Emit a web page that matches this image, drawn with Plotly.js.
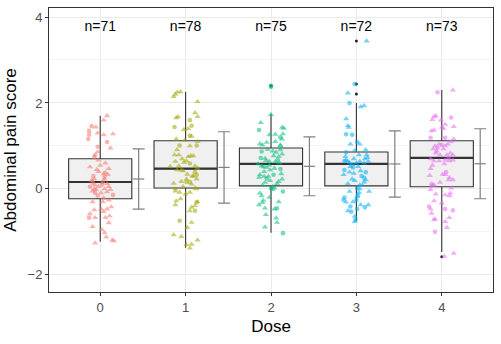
<!DOCTYPE html>
<html>
<head>
<meta charset="utf-8">
<script src="https://cdn.plot.ly/plotly-3.0.1.min.js"></script>
<style>
  body { margin: 0; background: #fff; }
  #chart { width: 501px; height: 344px; }
</style>
</head>
<body>
<div id="chart"></div>
<script>
// categories and labels
const doses = [0, 1, 2, 3, 4];
const nLabels = ["n=71", "n=78", "n=75", "n=72", "n=73"];
const labelY = 3.76;

// boxplot stats
const q1 = [-0.23, 0.02, 0.07, 0.07, 0.05];
const medians = [0.16, 0.47, 0.58, 0.58, 0.72];
const q3 = [0.70, 1.12, 0.95, 0.86, 1.12];
const lowFence = [-1.23, -1.37, -1.02, -0.74, -1.47];
const upFence = [1.70, 2.26, 1.74, 2.00, 2.30];
const outX = [2, 3, 3, 3, 4];
const outY = [2.40, 2.21, 2.44, 3.44, -1.58];

// mean +- sd
const means = [0.23, 0.50, 0.525, 0.58, 0.585];
const sds = [0.70, 0.83, 0.685, 0.77, 0.815];

// jittered points: [x offset, score, shape]  t = triangle, c = circle
const pts0 = [
  [0.08,1.70,"t"],[0.04,1.60,"t"],[-0.10,1.46,"c"],[-0.05,1.44,"t"],[-0.13,1.35,"c"],[-0.03,1.30,"t"],
  [0.04,1.26,"t"],[0.15,1.28,"t"],[-0.13,1.26,"c"],[-0.14,1.16,"c"],[0.08,1.09,"c"],[-0.03,0.98,"c"],
  [0.12,0.95,"t"],[-0.06,0.79,"c"],[-0.03,0.86,"t"],[-0.07,0.74,"c"],[-0.02,0.67,"t"],[0.06,0.60,"t"],
  [-0.12,0.51,"t"],[-0.02,0.40,"t"],[0.04,0.35,"t"],[0.10,0.47,"t"],[0.05,0.28,"c"],[-0.07,0.23,"t"],
  [0.05,0.23,"t"],[0.09,0.33,"t"],[-0.09,0.14,"c"],[-0.06,0.09,"t"],[0.03,0.16,"c"],[0.08,0.12,"t"],
  [-0.12,0.05,"c"],[-0.07,0.00,"t"],[-0.02,0.05,"t"],[0.05,0.00,"t"],[0.15,-0.14,"c"],[-0.09,-0.05,"t"],
  [-0.06,-0.09,"c"],[0.01,-0.09,"t"],[0.08,-0.07,"t"],[-0.03,-0.16,"c"],[0.04,-0.21,"t"],[-0.09,-0.30,"t"],
  [0.03,-0.30,"t"],[0.10,-0.26,"t"],[-0.07,-0.49,"t"],[0.01,-0.47,"t"],[0.08,-0.47,"t"],[0.13,-0.42,"t"],
  [0.04,-0.53,"t"],[-0.12,-0.58,"t"],[0.11,-0.63,"t"],[-0.13,-0.67,"c"],[-0.06,-0.67,"t"],[0.06,-0.67,"t"],
  [0.10,-0.79,"t"],[-0.09,-0.88,"t"],[0.02,-0.95,"t"],[0.05,-1.02,"t"],[0.07,-1.12,"t"],[-0.06,-1.26,"t"],
  [0.14,-1.19,"t"],[0.16,-1.21,"t"],[-0.04,0.45,"t"],[0.06,0.38,"t"],[-0.10,0.20,"t"],[0.02,0.10,"c"],
  [-0.05,-0.02,"t"],[0.10,0.05,"t"],[-0.08,0.30,"c"],[0.12,-0.02,"t"],[0.00,0.55,"t"]
];
const pts1 = [
  [-0.12,2.20,"t"],[-0.10,2.25,"t"],[-0.06,2.26,"t"],[-0.14,2.15,"t"],[0.14,2.03,"t"],[0.11,1.77,"t"],
  [0.14,1.68,"t"],[-0.09,1.68,"t"],[-0.11,1.65,"t"],[0.05,1.60,"c"],[0.07,1.47,"c"],[-0.13,1.44,"c"],
  [-0.02,1.38,"t"],[0.03,1.40,"t"],[0.05,1.24,"c"],[0.07,1.22,"t"],[-0.11,1.16,"t"],[-0.01,1.13,"t"],
  [0.14,1.10,"t"],[0.13,1.01,"c"],[-0.07,1.01,"c"],[0.05,1.00,"t"],[-0.10,0.91,"t"],[-0.13,0.79,"t"],
  [-0.08,0.79,"t"],[0.03,0.75,"t"],[0.06,0.77,"t"],[0.09,0.77,"t"],[-0.12,0.64,"t"],[-0.02,0.62,"t"],
  [0.01,0.65,"t"],[0.05,0.59,"c"],[-0.18,0.52,"t"],[-0.08,0.53,"t"],[0.11,0.53,"t"],[0.14,0.48,"t"],
  [-0.10,0.44,"t"],[-0.05,0.44,"t"],[-0.03,0.42,"t"],[0.11,0.39,"c"],[0.13,0.33,"c"],[0.02,0.34,"t"],
  [0.09,0.29,"t"],[0.01,0.23,"t"],[0.13,0.23,"t"],[-0.14,0.13,"t"],[-0.05,0.17,"t"],[0.01,0.16,"c"],
  [0.05,0.16,"c"],[0.07,0.11,"t"],[-0.03,0.05,"t"],[-0.12,0.00,"t"],[0.11,0.02,"t"],[0.13,0.00,"t"],
  [-0.12,-0.05,"t"],[-0.07,-0.08,"t"],[0.05,-0.08,"t"],[0.00,-0.12,"t"],[-0.06,-0.23,"t"],[-0.11,-0.28,"t"],
  [0.14,-0.30,"t"],[0.13,-0.31,"c"],[-0.12,-0.37,"t"],[0.11,-0.39,"t"],[0.07,-0.43,"t"],[0.11,-0.51,"c"],
  [0.05,-0.51,"t"],[-0.07,-0.74,"c"],[0.07,-0.78,"t"],[0.02,-0.90,"t"],[-0.14,-1.07,"t"],[-0.05,-1.11,"t"],
  [0.14,-1.19,"t"],[0.07,-1.29,"t"],[0.01,-1.30,"t"],[0.05,-1.38,"t"],[-0.04,0.70,"t"],[0.08,0.30,"t"]
];
const pts2 = [
  [0.00,2.40,"c"],[0.00,2.37,"c"],[0.00,1.73,"t"],[-0.12,1.54,"t"],[-0.14,1.37,"c"],[0.13,1.43,"t"],
  [0.15,1.41,"t"],[0.14,1.28,"t"],[0.05,1.27,"t"],[-0.02,1.26,"t"],[0.11,1.20,"c"],[0.13,1.16,"t"],
  [0.05,1.10,"t"],[-0.13,1.05,"t"],[-0.10,1.02,"t"],[-0.05,1.08,"t"],[0.11,1.02,"t"],[-0.11,0.87,"c"],
  [0.02,0.88,"t"],[0.11,0.91,"t"],[0.13,0.81,"t"],[0.09,0.75,"t"],[-0.07,0.71,"t"],[0.03,0.77,"t"],
  [0.08,0.67,"c"],[-0.02,0.64,"t"],[-0.06,0.66,"t"],[-0.15,0.58,"t"],[0.05,0.63,"t"],[-0.11,0.53,"t"],
  [-0.09,0.52,"c"],[-0.05,0.50,"t"],[0.11,0.46,"c"],[-0.01,0.44,"t"],[-0.13,0.33,"t"],[-0.08,0.29,"t"],
  [-0.03,0.29,"t"],[0.03,0.33,"c"],[-0.14,0.27,"t"],[0.13,0.23,"t"],[0.09,0.17,"t"],[-0.01,0.19,"t"],
  [-0.07,0.15,"t"],[0.02,0.05,"t"],[0.00,0.02,"c"],[0.04,0.02,"t"],[0.14,-0.06,"c"],[-0.13,-0.10,"t"],
  [-0.11,-0.16,"t"],[-0.09,-0.27,"t"],[-0.10,-0.32,"t"],[-0.14,-0.37,"t"],[-0.07,-0.45,"t"],[0.07,-0.45,"c"],
  [0.04,-0.47,"t"],[0.06,-0.68,"t"],[0.07,-0.78,"t"],[-0.07,-0.89,"t"],[0.14,-1.03,"c"],
  [-0.04,0.92,"t"],[0.06,0.85,"t"],[-0.12,0.72,"c"],[0.10,0.60,"t"],[-0.02,0.55,"t"],[0.04,0.48,"t"],
  [-0.08,0.40,"t"],[0.12,0.35,"t"],[-0.05,0.24,"c"],[0.07,0.12,"t"],[-0.10,0.08,"t"],[0.02,-0.02,"t"],
  [-0.02,-0.20,"t"],[0.09,-0.30,"t"],[-0.06,-0.60,"t"],[0.11,1.00,"t"]
];
const pts3 = [
  [0.12,3.44,"t"],[-0.02,2.44,"c"],[-0.10,2.23,"t"],[-0.08,2.00,"c"],[0.09,1.94,"t"],[0.05,1.91,"t"],
  [-0.12,1.63,"t"],[-0.10,1.47,"t"],[-0.09,1.43,"t"],[-0.12,1.27,"c"],[-0.05,1.26,"c"],[-0.07,1.04,"t"],
  [0.01,1.09,"c"],[0.04,1.04,"t"],[-0.12,0.85,"c"],[-0.02,0.89,"t"],[0.11,0.91,"t"],[0.03,0.79,"t"],
  [-0.13,0.75,"t"],[0.12,0.79,"t"],[0.13,0.73,"t"],[-0.12,0.67,"t"],[-0.10,0.64,"t"],[-0.08,0.60,"t"],
  [-0.14,0.65,"c"],[-0.05,0.57,"t"],[0.00,0.60,"t"],[0.04,0.64,"t"],[0.10,0.70,"t"],[0.09,0.60,"t"],
  [0.14,0.64,"t"],[-0.07,0.52,"t"],[-0.04,0.50,"c"],[0.02,0.52,"t"],[-0.14,0.44,"c"],[-0.08,0.39,"t"],
  [0.05,0.42,"t"],[0.11,0.39,"c"],[-0.03,0.36,"t"],[-0.15,0.33,"t"],[-0.05,0.23,"t"],[0.09,0.26,"c"],
  [-0.02,0.19,"t"],[0.11,0.21,"t"],[0.09,0.16,"t"],[0.04,0.09,"t"],[0.07,0.08,"t"],[0.01,0.02,"c"],
  [0.04,0.00,"t"],[-0.08,-0.06,"t"],[0.15,-0.06,"t"],[0.03,-0.08,"t"],[0.02,-0.14,"c"],[0.01,-0.18,"t"],
  [-0.14,-0.20,"c"],[-0.15,-0.26,"c"],[-0.12,-0.31,"t"],[-0.04,-0.30,"t"],[0.00,-0.26,"c"],[-0.07,-0.41,"c"],
  [0.05,-0.37,"t"],[0.14,-0.37,"t"],[0.10,-0.43,"c"],[0.01,-0.47,"c"],[-0.10,-0.51,"t"],[-0.06,-0.53,"c"],
  [-0.02,-0.64,"t"],[-0.01,-0.72,"c"],[-0.02,-0.76,"t"],[-0.03,0.70,"t"],[0.06,0.30,"c"],[-0.10,0.12,"t"]
];
const pts4 = [
  [-0.05,2.25,"c"],[0.13,2.30,"t"],[-0.09,1.68,"t"],[-0.07,1.70,"t"],[-0.11,1.61,"t"],[0.11,1.66,"c"],
  [-0.01,1.60,"t"],[0.04,1.50,"t"],[0.00,1.43,"t"],[0.14,1.45,"t"],[-0.12,1.35,"t"],[-0.09,1.37,"t"],
  [0.02,1.40,"t"],[-0.13,1.19,"c"],[0.04,1.19,"c"],[0.14,1.16,"t"],[0.11,1.10,"t"],[-0.03,1.04,"t"],
  [-0.08,1.00,"t"],[0.00,1.02,"c"],[0.04,1.00,"t"],[0.07,1.04,"t"],[-0.10,0.93,"t"],[-0.05,0.96,"c"],
  [0.02,0.93,"t"],[-0.07,0.83,"t"],[-0.02,0.79,"t"],[0.10,0.83,"t"],[0.13,0.79,"t"],[0.06,0.79,"t"],
  [-0.13,0.70,"t"],[-0.09,0.65,"t"],[-0.03,0.65,"t"],[0.04,0.67,"t"],[0.09,0.65,"t"],[0.13,0.67,"t"],
  [-0.13,0.47,"t"],[-0.14,0.31,"t"],[0.01,0.34,"t"],[0.05,0.39,"c"],[0.04,0.33,"t"],[0.09,0.26,"t"],
  [0.13,0.21,"t"],[0.08,0.21,"t"],[-0.12,0.11,"c"],[-0.09,0.09,"t"],[-0.11,0.08,"t"],[-0.07,-0.12,"t"],
  [0.04,-0.14,"t"],[0.10,-0.10,"t"],[0.09,-0.16,"t"],[-0.09,-0.28,"t"],[0.00,-0.33,"t"],[-0.15,-0.41,"c"],
  [-0.13,-0.47,"t"],[0.04,-0.47,"c"],[0.13,-0.50,"c"],[-0.12,-0.57,"t"],[0.09,-0.67,"t"],[-0.09,-0.72,"t"],
  [-0.08,-0.70,"t"],[0.04,-0.76,"t"],[0.03,-1.57,"t"],[0.14,-1.50,"t"],[-0.06,0.88,"t"],[0.08,0.72,"c"],
  [-0.11,0.55,"t"],[0.03,0.58,"t"],[-0.02,0.15,"t"],[0.11,0.02,"t"],[-0.13,-0.02,"t"],[0.06,-0.90,"t"],
  [-0.08,-1.00,"c"]
];
const groupPts = [pts0, pts1, pts2, pts3, pts4];
const doseColors = ["#F8766D", "#A3A500", "#00BF7D", "#00B0F6", "#E76BF3"];

const boxWidth = 0.74;
const barOffset = 0.45;

var traces = [];

// boxes (stats given directly)
traces.push({
  type: "box",
  x: doses,
  q1: q1,
  median: medians,
  q3: q3,
  lowerfence: lowFence,
  upperfence: upFence,
  width: boxWidth,
  boxpoints: false,
  whiskerwidth: 0,
  fillcolor: "#F0F0F0",
  line: { color: "#333333", width: 1.1 },
  hoverinfo: "skip",
  showlegend: false,
});

// thicker median bars
var medX = [], medY = [];
doses.forEach(function (d, i) {
  medX.push(d - boxWidth / 2, d + boxWidth / 2, null);
  medY.push(medians[i], medians[i], null);
});
traces.push({
  type: "scatter",
  mode: "lines",
  x: medX,
  y: medY,
  line: { color: "#333333", width: 2.2 },
  hoverinfo: "skip",
  showlegend: false,
});

// outliers
traces.push({
  type: "scatter",
  mode: "markers",
  x: outX,
  y: outY,
  marker: { color: "#222222", size: 3 },
  hoverinfo: "skip",
  showlegend: false,
});

// jittered points
groupPts.forEach(function (pts, i) {
  traces.push({
    type: "scatter",
    mode: "markers",
    x: pts.map(function (p) { return doses[i] + p[0]; }),
    y: pts.map(function (p) { return p[1]; }),
    marker: {
      color: doseColors[i],
      opacity: 0.55,
      symbol: pts.map(function (p) { return p[2] == "t" ? "triangle-up" : "circle"; }),
      size: pts.map(function (p) { return p[2] == "t" ? 5.5 : 4.6; }),
      line: { width: 0 },
    },
    hoverinfo: "skip",
    showlegend: false,
  });
});

// mean +- sd
traces.push({
  type: "scatter",
  mode: "markers",
  x: doses.map(function (d) { return d + barOffset; }),
  y: means,
  marker: { symbol: "line-ew", size: 8, line: { color: "#808080", width: 1.2 } },
  error_y: { type: "data", array: sds, visible: true, color: "#808080", thickness: 1.2, width: 6 },
  hoverinfo: "skip",
  showlegend: false,
});

// n labels
traces.push({
  type: "scatter",
  mode: "text",
  x: doses,
  y: doses.map(function () { return labelY; }),
  text: nLabels,
  textfont: { family: "Liberation Sans, Arial, sans-serif", size: 14, color: "#000000" },
  hoverinfo: "skip",
  showlegend: false,
});

var layout = {
  width: 501,
  height: 344,
  margin: { l: 49, r: 8, t: 8, b: 52 },
  paper_bgcolor: "#ffffff",
  plot_bgcolor: "#ffffff",
  font: { family: "Liberation Sans, Arial, sans-serif" },
  showlegend: false,
  xaxis: {
    range: [-0.6, 4.6],
    tickvals: doses,
    ticktext: doses.map(String),
    showgrid: true,
    gridcolor: "#EBEBEB",
    gridwidth: 1,
    zeroline: false,
    ticks: "outside",
    ticklen: 3,
    tickcolor: "#333333",
    tickfont: { size: 13, color: "#4D4D4D" },
    showline: true,
    mirror: true,
    linecolor: "#333333",
    linewidth: 1,
    title: { text: "Dose", font: { size: 17, color: "#000000" }, standoff: 6 },
    fixedrange: true,
  },
  yaxis: {
    range: [-2.4, 4.21],
    tickvals: [-2, 0, 2, 4],
    showgrid: true,
    gridcolor: "#EBEBEB",
    gridwidth: 1,
    minor: { tickvals: [-1, 1, 3], showgrid: true, gridcolor: "#F5F5F5", gridwidth: 1, ticks: "" },
    zeroline: false,
    ticks: "outside",
    ticklen: 3,
    tickcolor: "#333333",
    tickfont: { size: 13, color: "#4D4D4D" },
    showline: true,
    mirror: true,
    linecolor: "#333333",
    linewidth: 1,
    title: { text: "Abdominal pain score", font: { size: 17, color: "#000000" }, standoff: 6 },
    fixedrange: true,
  },
};

Plotly.newPlot("chart", traces, layout, { displayModeBar: false, staticPlot: true });
</script>
</body>
</html>
